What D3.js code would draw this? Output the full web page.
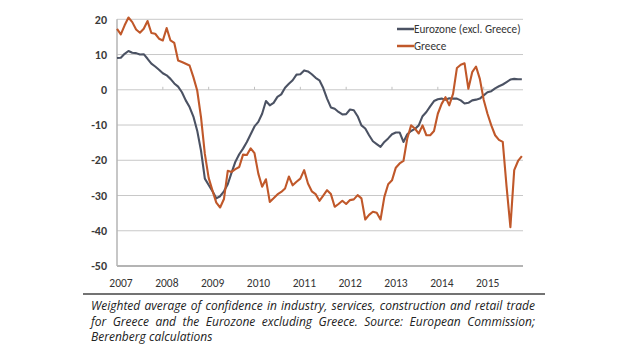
<!DOCTYPE html>
<html><head><meta charset="utf-8">
<script src="https://cdn.jsdelivr.net/npm/d3@7"></script>
<style>body{margin:0;background:#fff}svg{display:block}</style>
</head><body><svg id="c" width="620" height="355"></svg>
<script>
const years = ["2007","2008","2009","2010","2011","2012","2013","2014","2015"];
const yTicks = [20,10,0,-10,-20,-30,-40,-50];
const seriesNames = ["Eurozone (excl. Greece)","Greece"];
const eurozone = [9.0,9.1,10.2,11.0,10.5,10.4,10.0,10.1,8.8,7.4,6.6,5.7,4.7,4.1,3.1,1.8,0.9,-0.7,-3.0,-4.9,-7.6,-11.6,-17.3,-25.2,-27.0,-28.8,-30.8,-30.2,-28.8,-26.8,-23.5,-20.4,-18.3,-16.7,-14.8,-12.6,-10.4,-9.1,-6.8,-3.2,-4.4,-3.7,-2.0,-1.3,0.6,1.7,2.7,4.3,4.4,5.5,5.2,4.4,3.4,2.7,0.5,-2.5,-5.0,-5.4,-6.3,-7.0,-6.9,-5.6,-5.8,-7.5,-10.1,-11.0,-12.9,-14.6,-15.4,-16.2,-14.8,-13.8,-12.6,-12.1,-12.1,-14.8,-12.6,-11.7,-11.1,-10.1,-7.5,-6.3,-4.7,-3.2,-2.7,-2.5,-2.8,-2.4,-2.5,-2.5,-3.0,-3.9,-3.7,-3.0,-2.8,-2.5,-1.6,-0.7,-0.4,0.4,1.0,1.5,2.2,2.9,3.1,3.0,3.0];
const greece = [17.3,15.7,18.3,20.5,19.2,17.1,16.2,17.3,19.5,16.1,15.9,14.5,14.0,17.5,14.0,13.3,8.3,7.9,7.4,6.9,3.6,-0.2,-7.8,-18.2,-25.0,-28.6,-32.0,-33.4,-31.0,-23.0,-23.3,-22.5,-21.9,-18.4,-18.5,-16.6,-18.0,-23.8,-27.5,-25.4,-31.8,-30.8,-29.7,-29.0,-28.0,-24.6,-27.1,-26.1,-25.2,-22.8,-26.6,-28.8,-29.6,-31.5,-30.0,-28.5,-29.6,-33.2,-32.4,-31.5,-32.4,-31.3,-31.1,-29.9,-30.8,-36.8,-35.5,-34.6,-34.9,-36.8,-30.4,-26.8,-25.7,-22.1,-20.9,-20.2,-13.8,-10.1,-11.0,-12.4,-10.1,-12.9,-12.9,-11.7,-6.8,-4.0,-2.1,-4.4,-1.1,6.2,7.1,7.5,0.3,5.0,6.6,3.1,-2.8,-6.8,-10.1,-12.9,-14.2,-14.8,-27.5,-39.0,-22.8,-20.2,-18.8];
const caption = ["Weighted average of confidence in industry, services, construction and retail trade",
  "for Greece and the Eurozone excluding Greece. Source: European Commission;",
  "Berenberg calculations"];
const colors = ["#4b5263","#c0582a"];

const svg = d3.select("#c");
const L = 117, R = 523, T = 19.3, B = 266;
const x = d3.scaleLinear().domain([0, 106.3]).range([L, R]);
const y = d3.scaleLinear().domain([20, -50]).range([T, B]);
const font = "Calibri, Carlito, Lato, sans-serif";
const capFont = "'Open Sans', sans-serif";

// gridlines
svg.append("g").selectAll("line").data(yTicks.filter(d => d !== -50)).join("line")
  .attr("x1", L).attr("x2", R).attr("y1", d => y(d)).attr("y2", d => y(d))
  .attr("stroke", "#c8c8c8").attr("stroke-width", 1);
// bottom axis line
svg.append("line").attr("x1", L).attr("x2", R).attr("y1", y(-50)).attr("y2", y(-50))
  .attr("stroke", "#b4b4b4").attr("stroke-width", 2);
// y axis line
svg.append("line").attr("x1", L).attr("x2", L).attr("y1", T).attr("y2", B)
  .attr("stroke", "#b4b4b4").attr("stroke-width", 1.5);
// tick marks at zero line
svg.append("g").selectAll("line").data(years.slice(1)).join("line")
  .attr("x1", (d, i) => x((i + 1) * 12)).attr("x2", (d, i) => x((i + 1) * 12))
  .attr("y1", y(0) - 3).attr("y2", y(0))
  .attr("stroke", "#c0c0c0").attr("stroke-width", 1);

// y labels
svg.append("g").selectAll("text").data(yTicks).join("text")
  .attr("x", 107).attr("y", d => y(d)).attr("dy", "0.35em")
  .attr("text-anchor", "end").attr("font-family", font).attr("font-size", 12)
  .attr("font-weight", "bold").attr("fill", "#3a3a3a").text(d => d);
// x labels
svg.append("g").selectAll("text").data(years).join("text")
  .attr("x", (d, i) => x(i * 12) + 4).attr("y", 287)
  .attr("text-anchor", "middle").attr("font-family", font).attr("font-size", 11.5)
  .attr("fill", "#333").text(d => d);

// lines
const line = d3.line().x((d, i) => x(i)).y(d => y(d));
[eurozone, greece].forEach((s, k) => {
  svg.append("path").datum(s).attr("d", line).attr("fill", "none")
    .attr("stroke", colors[k]).attr("stroke-width", 2.1).attr("stroke-linejoin", "round");
});

// legend
seriesNames.forEach((n, k) => {
  const ly = 29 + k * 17;
  svg.append("line").attr("x1", 397).attr("x2", 414).attr("y1", ly).attr("y2", ly)
    .attr("stroke", colors[k]).attr("stroke-width", 2.5);
  svg.append("text").attr("x", 414).attr("y", ly).attr("dy", "0.35em")
    .attr("font-family", font).attr("font-size", 11.2).attr("fill", "#333").text(n);
});

// caption rule
svg.append("line").attr("x1", 83).attr("x2", 545).attr("y1", 294).attr("y2", 294)
  .attr("stroke", "#444").attr("stroke-width", 1.5);

// caption, justified lines
const capX0 = 91, capX1 = 535;
caption.forEach((ln, li) => {
  const ty = 310 + li * 15.5;
  const words = ln.split(" ");
  const g = svg.append("g");
  const ts = words.map(w => g.append("text").attr("y", ty)
    .attr("font-family", capFont).attr("font-size", 12).attr("font-style", "italic")
    .attr("fill", "#222").text(w));
  const widths = ts.map(t => t.node().getComputedTextLength());
  const total = d3.sum(widths);
  const justify = li < caption.length - 1;
  const gap = justify ? (capX1 - capX0 - total) / (words.length - 1) : 3.4;
  let cx = capX0;
  ts.forEach((t, i) => { t.attr("x", cx); cx += widths[i] + gap; });
});
</script></body></html>
